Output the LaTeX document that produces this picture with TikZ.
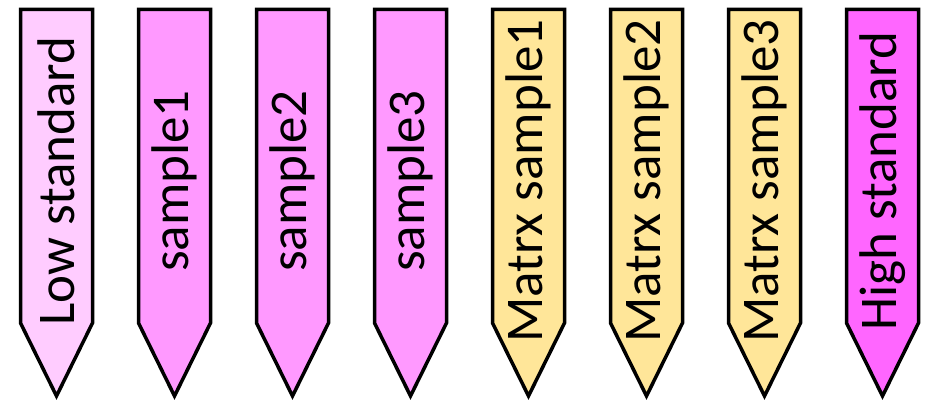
\documentclass[tikz,border=0pt]{standalone}
\usepackage{fontspec}
\setmainfont{Carlito}
\definecolor{lowpink}{RGB}{255,204,255}
\definecolor{samplepink}{RGB}{255,153,255}
\definecolor{matrxgold}{RGB}{255,230,153}
\definecolor{highpink}{RGB}{255,102,255}
\tikzset{
  % Down-pointing tag outline
  tagshape/.style={
    draw=black, line width=3.5pt, line join=miter
  },
  % Label written up the tag
  taglabel/.style={
    rotate=90, inner sep=0pt, text=black,
    font=\fontsize{53}{60}\selectfont
  },
}

\begin{document}
\begin{tikzpicture}[x=1pt, y=1pt]
\useasboundingbox (0,0) rectangle (926,404);

%% ── TAGS ─────────────────────────────────────────────────────────────────
\foreach \cx/\col/\name/\txt in {
    56.5/lowpink/low/Low standard,
    174.5/samplepink/s1/sample1,
    292.5/samplepink/s2/sample2,
    410.5/samplepink/s3/sample3,
    528.5/matrxgold/m1/Matrx sample1,
    646.5/matrxgold/m2/Matrx sample2,
    764.5/matrxgold/m3/Matrx sample3,
    882.5/highpink/high/High standard}
{
  \draw[tagshape, fill=\col]
    (\cx-36,394.5) -- (\cx+36,394.5) -- (\cx+36,81)
    -- (\cx,8) -- (\cx-36,81) -- cycle;
  \node[taglabel] (\name) at (\cx,223) {\txt};
}

\end{tikzpicture}
\end{document}
